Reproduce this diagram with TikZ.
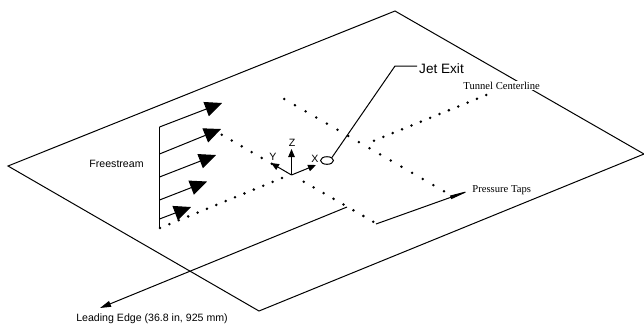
\documentclass[tikz,border=0pt]{standalone}
\usepackage{fontspec}
\setmainfont{Liberation Sans}
\newfontfamily\serifname{Liberation Serif}
\usetikzlibrary{arrows.meta,calc,positioning,shapes.geometric}
\tikzset{
  plateline/.style={line width=1pt},
  flowarrow/.style={line width=1pt,-{Triangle[length=17pt,width=15pt]}},
  axisarrow/.style={line width=1pt,-{Triangle[length=8pt,width=6.5pt]}},
  sanslabel/.style={font=\fontsize{10.6}{12}\selectfont,inner sep=0pt},
  seriflabel/.style={font=\serifname\fontsize{10.6}{12}\selectfont,inner sep=1pt},
}
\begin{document}
\begin{tikzpicture}[x=1pt,y=-1pt]

    \useasboundingbox (0,0) rectangle (644,325);

    % plate
    \coordinate (top) at (395,11);
    \coordinate (right) at (644,154);
    \coordinate (bottom) at (259,311);
    \coordinate (left) at (8,166);
    \draw[plateline,line join=miter] (top) -- (right) -- (bottom) -- (left) -- cycle;

    % pressure taps
    \coordinate (a0) at (160,228);
    \coordinate (a1) at (282,178);
    \coordinate (a2) at (374,140.7);
    \coordinate (a3) at (486.3,95);
    \coordinate (b0) at (221.7,134.7);
    \coordinate (b1) at (271.7,163.7);
    \coordinate (b2) at (303.7,181.7);
    \coordinate (b3) at (373.3,221.7);
    \coordinate (c0) at (284.3,99);
    \coordinate (c1) at (444,191.3);
    \foreach \from/\to/\n in {a0/a1/13,a2/a3/12,b0/b1/5,b2/b3/7,c0/c1/15}{
        \foreach \i in {0,...,\n}
            \fill ($(\from)!\i/\n!(\to)$) circle (1.4pt);
    }

    % freestream profile
    \coordinate (fstop) at (159.5,127);
    \coordinate (fsbot) at (159.5,228);
    \draw[plateline] (fstop) -- (fsbot);
    \foreach \n/\ya/\xb/\yb in {1/127/222/103,2/154/221/129,3/177/216/155,4/200/207/181.5,5/219/191/207}{
        \coordinate (fsa\n) at (159.5,\ya);
        \coordinate (fsb\n) at (\xb,\yb);
        \draw[flowarrow] (fsa\n) -- (fsb\n);
    }
    \node[sanslabel] (freestream) at (116.5,164) {Freestream};

    % axes
    \coordinate (origin) at (291.5,175);
    \coordinate (zend) at (291.5,149);
    \coordinate (xend) at (316,165);
    \coordinate (yend) at (271,163);
    \draw[axisarrow] (origin) -- (zend);
    \draw[axisarrow] (origin) -- (xend);
    \draw[axisarrow] (origin) -- (yend);
    \node[sanslabel] (zlabel) at (292,143) {Z};
    \node[sanslabel] (xlabel) at (315,159) {X};
    \node[sanslabel] (ylabel) at (273,157) {Y};

    % jet exit
    \node[draw,plateline,ellipse,minimum width=13pt,minimum height=7.6pt,inner sep=0pt] (jet) at (327,160.5) {};
    \coordinate (jetbend) at (395,66);
    \coordinate (jetend) at (417,66);
    \draw[plateline] (jet.north east) -- (jetbend) -- (jetend);
    \node[font=\fontsize{13.6}{15}\selectfont,inner sep=0pt,right=2pt of jetend,yshift=-3pt] (jetlabel) {Jet Exit};

    % labels
    \node[seriflabel,fill=white] (tunnel) at (501.7,85.5) {Tunnel Centerline};
    \node[seriflabel] (taps) at (501.7,190) {Pressure Taps};
    \coordinate (tapsstart) at (376,224);
    \draw[plateline,-{Triangle[length=22pt,width=3.5pt]}] (tapsstart) -- (taps.west);

    % leading edge
    \coordinate (edgestart) at (347,207);
    \coordinate (edgetip) at (100,308);
    \draw[plateline,-{Triangle[length=11pt,width=6pt]}] (edgestart) -- (edgetip);
    \node[sanslabel] (edgelabel) at (152,319) {Leading Edge (36.8 in, 925 mm)};

\end{tikzpicture}
\end{document}
